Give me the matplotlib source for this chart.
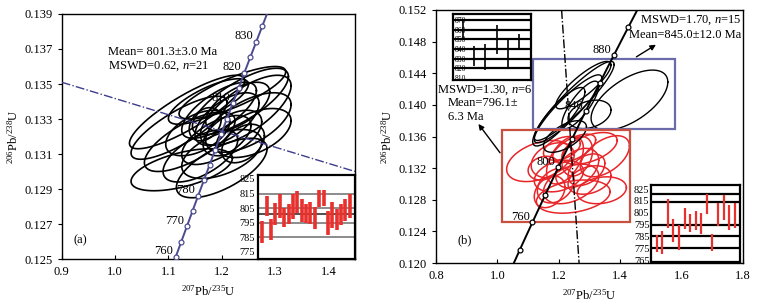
import numpy as np
import matplotlib
matplotlib.use("Agg")
import matplotlib.pyplot as plt
from matplotlib.patches import Rectangle

plt.rcParams['font.family'] = ['Liberation Serif', 'DejaVu Serif']
plt.rcParams['mathtext.fontset'] = 'custom'
plt.rcParams['mathtext.rm'] = 'Liberation Serif'
plt.rcParams['mathtext.it'] = 'Liberation Serif:italic'
plt.rcParams['font.size'] = 9

# decay constants (1/yr) for the concordia
L238 = 1.55125e-10
L235 = 9.8485e-10

# ---- panel (a) data ----
# ellipses: 207Pb/235U centre, 206Pb/238U centre, x half-size, y half-size, rho
a_cx = [1.135, 1.125, 1.200, 1.245, 1.235, 1.250, 1.220, 1.120, 1.140, 1.160, 1.169,
        1.210, 1.195, 1.220, 1.240, 1.190, 1.200, 1.260, 1.175, 1.230, 1.155]
a_cy = [0.1334, 0.1301, 0.1302, 0.1335, 0.1340, 0.1328, 0.1345, 0.1325, 0.1317, 0.1309, 0.1327,
        0.1330, 0.1335, 0.1322, 0.1316, 0.1318, 0.1310, 0.1322, 0.1340, 0.1337, 0.1322]
a_sx = [0.108, 0.095, 0.085, 0.085, 0.090, 0.080, 0.100, 0.090, 0.085, 0.070, 0.030,
        0.060, 0.070, 0.055, 0.040, 0.065, 0.075, 0.070, 0.075, 0.060, 0.060]
a_sy = [0.0021, 0.0012, 0.0017, 0.0020, 0.0019, 0.0017, 0.0015, 0.0018, 0.0017, 0.0015, 0.00095,
        0.0015, 0.0016, 0.0013, 0.0011, 0.0014, 0.0014, 0.0014, 0.0013, 0.0014, 0.0013]
a_rho = [0.85, 0.55, 0.65, 0.70, 0.75, 0.60, 0.80, 0.80, 0.70, 0.60, 0.30,
         0.60, 0.70, 0.50, 0.40, 0.60, 0.50, 0.50, 0.75, 0.60, 0.50]

a_ticks = [760, 765, 770, 775, 780, 785, 790, 795, 800, 805, 810, 815, 820, 825, 830, 835]
a_labels = [760, 770, 780, 810, 820, 830]
a_disc_x = [0.90, 1.45]
a_disc_y = [0.1351, 0.1300]

# inset (a): 206Pb/238U ages, top and bottom of error bars
a_bar_hi = [796.5, 813.5, 797.5, 808.6, 815.0, 805.0, 808.0, 814.5, 817.0, 811.4, 807.8,
            809.0, 806.0, 817.5, 817.6, 803.0, 809.0, 804.6, 807.5, 811.0, 815.0]
a_bar_lo = [781.0, 799.7, 783.0, 793.3, 798.6, 792.0, 794.0, 797.6, 801.8, 795.4, 795.0,
            794.4, 791.0, 806.0, 806.5, 786.3, 791.6, 790.0, 793.7, 796.0, 798.6]
a_grid = [785, 795, 805, 815]
a_mean = 801.3

# ---- panel (b) data ----
b_blk_cx = [1.43, 1.25, 1.23, 1.30, 1.22, 1.27, 1.28, 1.20]
b_blk_cy = [0.1406, 0.1405, 0.1395, 0.1388, 0.1360, 0.1400, 0.1425, 0.1385]
b_blk_sx = [0.125, 0.130, 0.110, 0.070, 0.070, 0.060, 0.090, 0.085]
b_blk_sy = [0.0038, 0.0050, 0.0043, 0.0018, 0.0020, 0.0030, 0.0030, 0.0037]
b_blk_rho = [0.60, 0.92, 0.90, 0.30, 0.60, 0.80, 0.85, 0.85]

b_red_cx = [1.136, 1.35, 1.247, 1.34, 1.18, 1.22, 1.26, 1.20, 1.29, 1.15, 1.25, 1.30, 1.24,
            1.21, 1.19, 1.30, 1.17, 1.26]
b_red_cy = [0.1329, 0.1335, 0.1284, 0.1292, 0.1330, 0.1330, 0.1320, 0.1310, 0.1318, 0.1320,
            0.1345, 0.1305, 0.1300, 0.1345, 0.1298, 0.1345, 0.1290, 0.1335]
b_red_sx = [0.106, 0.080, 0.120, 0.080, 0.070, 0.060, 0.070, 0.080, 0.060, 0.050, 0.070, 0.070,
            0.090, 0.060, 0.060, 0.090, 0.050, 0.050]
b_red_sy = [0.0026, 0.0026, 0.0021, 0.0017, 0.0022, 0.0030, 0.0025, 0.0020, 0.0020, 0.0015,
            0.0018, 0.0018, 0.0025, 0.0015, 0.0022, 0.0020, 0.0020, 0.0025]
b_red_rho = [0.4, 0.5, 0.3, 0.2, 0.3, 0.5, 0.4, 0.3, 0.4, 0.2, 0.6, 0.3, 0.4, 0.4, 0.3,
             0.5, 0.3, 0.3]

b_ticks = [740, 760, 780, 800, 820, 840, 860, 880, 900]
b_labels = [760, 800, 840, 880]
b_disc_x = [1.209, 1.266]
b_disc_y = [0.152, 0.120]

# inset (b) top-left
bt_hi = [870, 843, 845, 865, 850, 855]
bt_lo = [850.7, 823, 818, 835, 820, 840]
bt_grid = [870, 860, 850, 840, 830, 820]
# inset (b) bottom-right
br_hi = [786.4, 789.9, 816.4, 799.9, 795.0, 809.3, 803.6, 806.4, 805.0, 820.7, 787.3, 813.0,
         819.9, 811.3, 813.6]
br_lo = [772.1, 770.1, 792.1, 780.1, 773.6, 791.3, 788.4, 790.1, 787.3, 803.6, 773.0, 793.6,
         799.3, 790.7, 792.1]
br_grid = [821, 814, 794.5, 785, 775]


def concordia(t_ma):
    t = np.asarray(t_ma) * 1e6
    return np.exp(L235 * t) - 1, np.exp(L238 * t) - 1


def draw_ellipses(ax, cx, cy, sx, sy, rho, color, lw):
    th = np.linspace(0, 2 * np.pi, 200)
    for i in range(len(cx)):
        x = cx[i] + sx[i] * np.cos(th)
        y = cy[i] + sy[i] * (rho[i] * np.cos(th) + np.sqrt(1 - rho[i] ** 2) * np.sin(th))
        ax.plot(x, y, color=color, lw=lw)


def draw_concordia(ax, ticks, labels, color):
    xs, ys = concordia(np.linspace(680, 980, 400))
    ax.plot(xs, ys, color=color, lw=1.4, zorder=4)
    tx, ty = concordia(ticks)
    ax.plot(tx, ty, 'o', ms=3.5, mfc='white', mec=color, mew=0.9, zorder=5)
    for age in labels:
        lx, ly = concordia(age)
        ax.annotate(str(age), (lx, ly), xytext=(-2, 4), textcoords='offset points',
                    ha='right', va='center', fontsize=9, zorder=3)


def style_main(ax):
    for s in ax.spines.values():
        s.set_linewidth(1.0)
    ax.tick_params(axis='x', direction='in', length=3, labelsize=9, pad=5)
    ax.tick_params(axis='y', direction='out', length=3, labelsize=9)
    ax.tick_params(top=False, right=False)


def bar_inset(ax, hi, lo, grid, color, lw, gcolor, glw):
    for g in grid:
        ax.axhline(g, color=gcolor, lw=glw, zorder=1)
    xs = np.arange(1, len(hi) + 1)
    ax.vlines(xs, lo, hi, color=color, lw=lw, zorder=2)
    ax.set_xticks([])
    for s in ax.spines.values():
        s.set_linewidth(1.6)


fig = plt.figure(figsize=(7.6, 3.01), dpi=100)

# ---------------- panel (a) ----------------
ax = fig.add_axes([0.0812, 0.1395, 0.386, 0.814])
draw_ellipses(ax, a_cx, a_cy, a_sx, a_sy, a_rho, 'black', 1.2)
ax.plot(a_disc_x, a_disc_y, color='#3d3d8c', lw=1.0, ls='-.', zorder=3)
draw_concordia(ax, a_ticks, a_labels, '#4b4b8f')
ax.set_xlim(0.9, 1.45)
ax.set_ylim(0.125, 0.139)
ax.set_xticks([0.9, 1.0, 1.1, 1.2, 1.3, 1.4])
ax.set_xticklabels(['0.9', '1.0', '1.1', '1.2', '1.3', '1.4'])
ax.set_yticks(np.arange(0.125, 0.1395, 0.002))
ax.set_yticklabels(['%.3f' % v for v in np.arange(0.125, 0.1395, 0.002)])
style_main(ax)
ax.set_xlabel(r'$^{207}$Pb/$^{235}$U', fontsize=9, labelpad=4)
ax.set_ylabel(r'$^{206}$Pb/$^{238}$U', fontsize=9, labelpad=3)
ax.text(0.987, 0.13685, 'Mean= 801.3\u00b13.0 Ma', fontsize=9, va='center')
ax.text(0.987, 0.13599, 'MSWD=0.62, $n$=21', fontsize=9, va='center')
ax.text(0.923, 0.12609, '(a)', fontsize=9, va='center')

ins = ax.inset_axes([0.668, 0.0, 0.332, 0.343])
ins.set_facecolor('white')
ins.set_zorder(6)
bar_inset(ins, a_bar_hi, a_bar_lo, a_grid, '#e8302c', 2.6, '#8c8c8c', 1.4)
ins.axhline(a_mean, color='#505050', lw=1.4, zorder=1)
ins.set_xlim(-0.05, 22.2)
ins.set_ylim(770.2, 827.7)
ins.set_yticks([775, 785, 795, 805, 815, 825])
ins.tick_params(axis='y', length=0, labelsize=7.5, pad=2)

# ---------------- panel (b) ----------------
ax = fig.add_axes([0.5737, 0.1262, 0.404, 0.8406])
draw_ellipses(ax, b_red_cx, b_red_cy, b_red_sx, b_red_sy, b_red_rho, '#e8262a', 1.1)
draw_ellipses(ax, b_blk_cx, b_blk_cy, b_blk_sx, b_blk_sy, b_blk_rho, 'black', 1.0)
ax.plot(b_disc_x, b_disc_y, color='black', lw=1.0, ls='-.', zorder=3)
draw_concordia(ax, b_ticks, b_labels, 'black')
ax.add_patch(Rectangle((1.115, 0.1369), 1.578 - 1.115, 0.14576 - 0.1369, fill=False,
                       ec='#6b6bab', lw=1.6, zorder=2))
ax.add_patch(Rectangle((1.014, 0.12515), 1.432 - 1.014, 0.13682 - 0.12515, fill=False,
                       ec='#c8503e', lw=1.6, zorder=2))
ax.annotate('', xy=(1.524, 0.14779), xytext=(1.445, 0.14589),
            arrowprops=dict(arrowstyle='-|>', color='black', lw=1.0, mutation_scale=8))
ax.annotate('', xy=(0.9326, 0.13787), xytext=(1.014, 0.13366),
            arrowprops=dict(arrowstyle='-|>', color='black', lw=1.0, mutation_scale=8))
ax.set_xlim(0.8, 1.8)
ax.set_ylim(0.120, 0.152)
ax.set_xticks([0.8, 1.0, 1.2, 1.4, 1.6, 1.8])
ax.set_xticklabels(['0.8', '1.0', '1.2', '1.4', '1.6', '1.8'])
ax.set_yticks(np.arange(0.120, 0.1525, 0.004))
ax.set_yticklabels(['%.3f' % v for v in np.arange(0.120, 0.1525, 0.004)])
style_main(ax)
ax.set_xlabel(r'$^{207}$Pb/$^{235}$U', fontsize=9, labelpad=4)
ax.set_ylabel(r'$^{206}$Pb/$^{238}$U', fontsize=9, labelpad=3)
ax.text(1.795, 0.15074, 'MSWD=1.70, $n$=15', fontsize=9, ha='right', va='center')
ax.text(1.795, 0.14884, 'Mean=845.0\u00b112.0 Ma', fontsize=9, ha='right', va='center')
ax.text(0.803, 0.14188, 'MSWD=1.30, $n$=6', fontsize=9, va='center')
ax.text(0.839, 0.14024, 'Mean=796.1\u00b1', fontsize=9, va='center')
ax.text(0.839, 0.13850, '6.3 Ma', fontsize=9, va='center')
ax.text(0.871, 0.12291, '(b)', fontsize=9, va='center')

ins = ax.inset_axes([0.0554, 0.723, 0.2531, 0.261])
ins.set_zorder(6)
bar_inset(ins, bt_hi, bt_lo, bt_grid, 'black', 1.2, 'black', 1.6)
ins.set_xlim(0.14, 7.02)
ins.set_ylim(808, 876)
ins.set_yticks([810, 820, 830, 840, 850, 860, 870])
ins.tick_params(axis='y', length=0, labelsize=5.5, pad=-1)
for lab in ins.get_yticklabels():
    lab.set_ha('left')

ins = ax.inset_axes([0.700, 0.005, 0.290, 0.303])
ins.set_zorder(6)
bar_inset(ins, br_hi, br_lo, br_grid, '#e8302c', 1.6, 'black', 1.6)
ins.set_xlim(-0.02, 15.95)
ins.set_ylim(763.6, 828.4)
ins.set_yticks([765, 775, 785, 795, 805, 815, 825])
ins.tick_params(axis='y', length=0, labelsize=7.5, pad=1)

fig.savefig('out.png', dpi=100)
